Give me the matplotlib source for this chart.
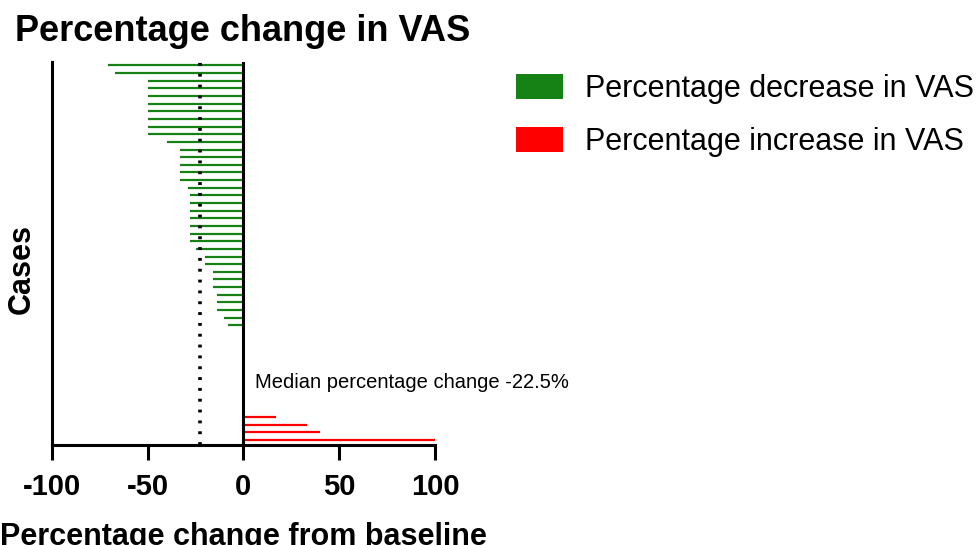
import matplotlib
matplotlib.use('Agg')
import matplotlib.pyplot as plt
from matplotlib.patches import Patch
import numpy as np

plt.rcParams['font.family'] = ['Liberation Sans', 'DejaVu Sans']
plt.rcParams['axes.unicode_minus'] = False

# percentage change in VAS per case, top to bottom
decrease = [-71, -67, -50, -50, -50, -50, -50, -50, -50, -50, -40,
            -33, -33, -33, -33, -33, -29, -28, -28, -28, -28, -28, -28, -28,
            -25, -20, -20, -16, -16, -16, -14, -14, -14, -10, -8]
no_change = [0] * 11
increase = [17, 33, 40, 100]
changes = decrease + no_change + increase
median_change = float(np.median(changes))

GREEN = '#168216'
RED = '#ff0000'

fig = plt.figure(figsize=(9.79, 5.45), dpi=100)
ax = fig.add_axes([0.0531, 0.1835, 0.3912, 0.7027])

ypos = np.arange(len(changes))
colors = [GREEN if v < 0 else RED for v in changes]
ax.hlines(ypos, 0, changes, colors=colors, lw=1.6)

ax.axvline(0, color='black', lw=2.2)
ax.axvline(median_change, color='black', lw=2.6, linestyle=(0, (0.8, 2.2)))

ax.set_xlim(-100, 100)
ax.set_ylim(len(changes) - 0.35, -0.45)
ax.set_xticks([-100, -50, 0, 50, 100])
ax.set_yticks([])
for s in ['top', 'right']:
    ax.spines[s].set_visible(False)
for s in ['left', 'bottom']:
    ax.spines[s].set_linewidth(2.2)
ax.tick_params(axis='x', direction='out', length=11, width=2.2, pad=9, labelsize=21)
for lbl in ax.get_xticklabels():
    lbl.set_fontweight('bold')

ax.set_xlabel('Percentage change from baseline', fontsize=22, fontweight='bold', labelpad=15)
ax.set_ylabel('Cases', fontsize=22, fontweight='bold')
ax.yaxis.set_label_coords(-0.04, 0.46)

ax.text(6, 41.5, 'Median percentage change %.1f%%' % median_change, fontsize=14.5, va='center', ha='left')

fig.text(0.015, 0.943, 'Percentage change in VAS', fontsize=26, fontweight='bold', va='center', ha='left')

handles = [Patch(facecolor=GREEN, label='Percentage decrease in VAS'),
           Patch(facecolor=RED, label='Percentage increase in VAS')]
fig.legend(handles=handles, loc='upper left', bbox_to_anchor=(0.527, 0.865), frameon=False,
           fontsize=22, handlelength=1.55, handleheight=0.9, handletextpad=0.7, labelspacing=0.75,
           borderaxespad=0, borderpad=0)

fig.savefig('out.png', dpi=100)
